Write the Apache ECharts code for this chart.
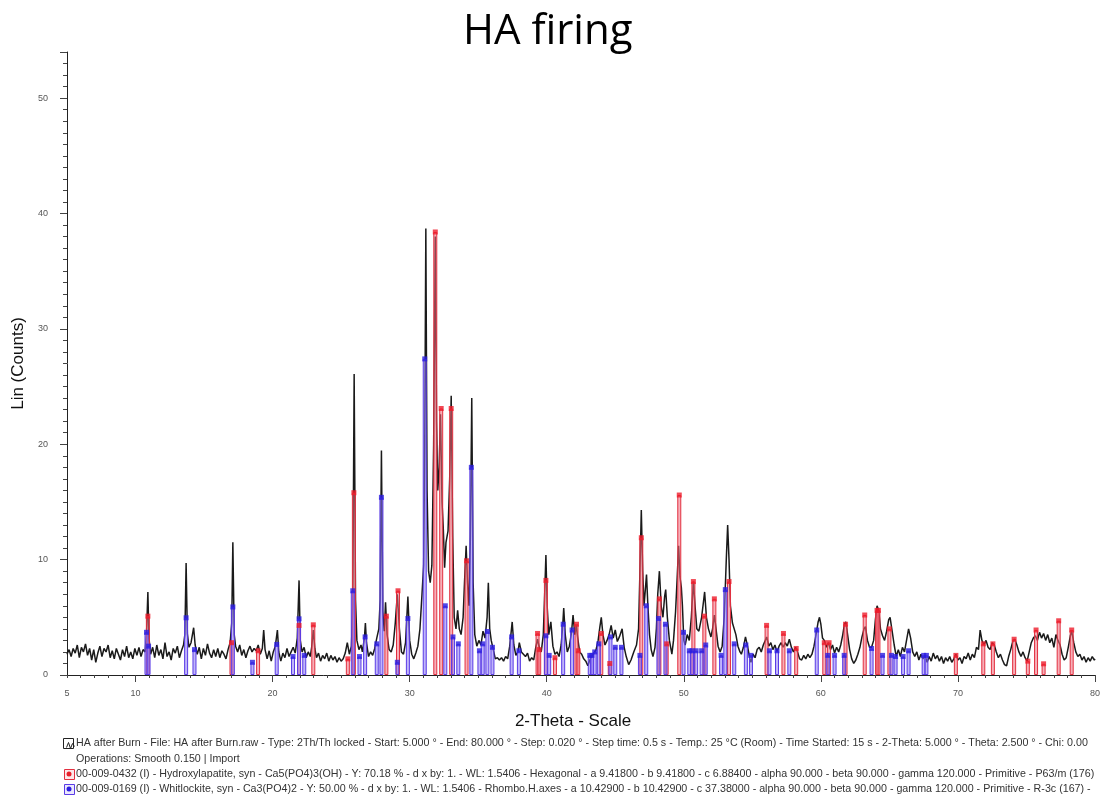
<!DOCTYPE html>
<html><head><meta charset="utf-8">
<script src="https://cdn.jsdelivr.net/npm/echarts@6/dist/echarts.min.js"></script>
<style>html,body{margin:0;padding:0;background:#fff}#c{width:1103px;height:806px}</style>
</head><body><div id="c"></div>
<script>
const chartTitle = 'HA firing';
const xName = '2-Theta - Scale';
const yName = 'Lin (Counts)';
const xTickLabels = [5,10,20,30,40,50,60,70,80];
const yTickLabels = [0,10,20,30,40,50];

// measured pattern: [2-theta, counts]
const pattern = [
[5.00,1.8],[5.15,2.2],[5.3,1.6],[5.45,2.3],[5.6,1.9],[5.75,2.6],[5.9,1.5],[6.05,2.4],[6.2,2.0],[6.35,2.7],[6.5,1.7],[6.65,2.3],[6.8,1.3],[6.95,2.2],[7.1,1.1],[7.25,1.9],[7.4,2.5],[7.55,1.6],[7.7,2.3],[7.85,2.0],[8.0,2.6],[8.15,1.5],[8.3,2.1],[8.45,1.4],[8.6,2.3],[8.75,1.8],[8.9,1.3],[9.05,2.2],[9.2,1.6],[9.35,2.5],[9.5,1.5],[9.65,2.0],[9.8,1.4],[9.95,2.3],[10.1,1.7],[10.25,2.4],[10.4,1.6],[10.55,2.2],[10.7,2.0],
[10.8,3.5],[10.9,7.2],[10.98,3.2],[11.1,1.8],[11.25,2.4],[11.4,1.5],[11.55,2.6],[11.7,1.7],[11.85,2.2],[12.0,1.4],[12.15,2.8],[12.3,1.6],[12.45,2.0],[12.6,1.3],[12.75,2.3],[12.9,1.9],[13.05,2.5],[13.2,1.5],[13.35,2.1],[13.5,2.6],
[13.6,3.5],[13.69,9.7],[13.78,3.6],[13.9,2.4],[14.05,2.8],[14.24,4.1],[14.35,2.6],[14.5,1.8],[14.65,2.4],[14.8,1.4],[14.95,2.3],[15.1,1.7],[15.25,2.7],[15.4,1.9],[15.55,1.5],[15.7,2.2],[15.85,1.6],[16.0,2.3],[16.15,1.5],[16.3,2.1],[16.45,1.8],[16.6,1.4],[16.75,2.2],[16.9,2.8],
[17.02,4.5],[17.1,11.5],[17.2,3.5],[17.3,2.5],[17.45,2.0],[17.6,2.6],[17.75,1.7],[17.9,2.2],[18.05,1.5],[18.2,2.1],[18.35,2.5],[18.5,2.0],[18.65,2.3],[18.8,2.1],[18.95,2.6],[19.1,1.8],[19.25,2.3],[19.35,3.9],[19.45,2.2],[19.6,1.4],[19.75,2.1],[19.9,1.2],[20.05,2.0],[20.2,2.5],[20.35,3.9],[20.45,2.0],[20.6,1.2],[20.75,1.9],[20.9,1.5],[21.05,2.3],[21.2,1.6],[21.35,2.0],[21.5,2.4],[21.65,1.9],[21.8,3.2],
[21.93,8.2],[22.02,3.0],[22.15,2.0],[22.3,2.4],[22.45,1.5],[22.6,2.0],[22.75,1.6],[22.85,2.4],[22.97,3.9],[23.08,2.3],[23.2,1.5],[23.35,1.9],[23.5,1.2],[23.65,1.7],[23.8,1.4],[23.95,1.9],[24.1,1.2],[24.25,1.7],[24.4,1.3],[24.55,1.6],[24.7,1.1],[24.85,1.5],[25.0,1.2],[25.15,1.4],[25.3,1.9],[25.45,2.8],[25.6,1.8],[25.75,2.5],
[25.85,6.0],[25.95,26.1],[26.05,6.5],[26.15,3.0],[26.3,2.2],[26.45,2.6],[26.55,2.0],[26.7,3.2],[26.77,4.5],[26.85,2.8],[27.0,1.6],[27.15,2.0],[27.3,1.7],[27.45,2.3],[27.6,3.2],[27.75,4.0],[27.85,6.5],[27.94,19.45],[28.04,5.5],[28.15,3.8],[28.24,6.3],[28.35,3.5],[28.5,2.2],[28.65,2.0],[28.8,2.6],[28.95,4.5],[29.1,7.0],[29.25,4.0],[29.4,2.0],[29.55,1.8],[29.7,2.8],[29.87,6.8],[30.0,3.0],[30.15,1.8],[30.3,1.4],[30.45,1.9],[30.6,2.5],[30.75,4.0],[30.9,7.0],[31.02,9.5],[31.1,20.0],[31.18,38.7],[31.27,16.0],[31.38,9.0],[31.5,8.0],[31.62,9.5],[31.75,20.0],[31.87,38.0],[31.96,22.0],[32.05,16.0],[32.15,18.0],[32.25,22.6],[32.36,15.0],[32.45,12.8],[32.55,9.3],[32.65,11.5],[32.8,12.5],[32.92,17.0],[33.03,24.2],[33.14,12.0],[33.25,5.0],[33.38,4.0],[33.5,5.6],[33.62,4.0],[33.75,3.5],[33.9,5.0],[34.0,8.0],[34.12,11.2],[34.22,8.0],[34.33,6.0],[34.43,12.0],[34.53,24.0],[34.63,8.0],[34.75,3.5],[34.9,2.5],[35.05,3.0],[35.2,2.6],[35.35,3.8],[35.5,3.2],[35.65,5.0],[35.74,8.0],[35.84,4.0],[35.95,3.0],[36.1,2.2],[36.25,1.4],[36.4,1.5],[36.55,1.3],[36.7,1.5],[36.85,1.2],[37.0,1.6],[37.15,1.4],[37.3,2.5],[37.48,4.6],[37.6,2.6],[37.75,1.7],[37.9,2.0],[38.0,2.8],[38.15,2.0],[38.3,1.8],[38.45,1.6],[38.6,1.9],[38.75,1.2],[38.9,1.5],[39.05,1.3],[39.2,2.4],[39.33,3.1],[39.45,2.4],[39.6,2.0],[39.75,3.5],[39.85,7.0],[39.94,10.4],[40.03,6.0],[40.15,3.5],[40.3,4.6],[40.45,2.5],[40.6,1.8],[40.75,2.0],[40.9,1.6],[41.05,2.6],[41.15,4.0],[41.24,5.8],[41.35,3.5],[41.5,2.0],[41.65,2.5],[41.8,3.6],[41.92,5.2],[42.05,3.5],[42.15,4.3],[42.25,3.3],[42.4,2.0],[42.55,1.8],[42.7,1.4],[42.85,1.2],[43.0,0.8],[43.15,1.3],[43.3,1.6],[43.45,1.9],[43.6,2.2],[43.75,3.0],[43.88,4.2],[43.98,5.0],[44.1,3.5],[44.25,2.6],[44.4,3.0],[44.55,3.5],[44.7,4.3],[44.85,3.2],[45.0,3.9],[45.15,2.9],[45.3,3.3],[45.5,4.0],[45.65,2.4],[45.8,1.6],[45.98,0.9],[46.15,1.3],[46.35,2.0],[46.55,2.6],[46.7,4.0],[46.8,9.0],[46.9,14.3],[47.0,9.0],[47.1,6.0],[47.2,7.5],[47.28,8.7],[47.38,6.0],[47.5,3.5],[47.62,2.2],[47.75,1.6],[47.9,2.4],[48.0,4.0],[48.1,7.0],[48.22,9.0],[48.35,6.0],[48.48,5.0],[48.6,6.8],[48.68,7.4],[48.8,5.0],[48.95,3.0],[49.13,1.8],[49.25,3.0],[49.4,5.5],[49.52,8.5],[49.62,11.2],[49.72,8.5],[49.82,7.6],[49.9,6.0],[50.0,3.0],[50.1,2.6],[50.25,3.5],[50.4,3.0],[50.55,5.0],[50.7,8.1],[50.82,6.0],[50.95,4.0],[51.1,3.8],[51.3,5.0],[51.45,6.5],[51.52,7.2],[51.65,5.0],[51.8,4.0],[51.98,3.3],[52.1,4.0],[52.23,5.2],[52.35,4.0],[52.5,2.5],[52.65,2.0],[52.8,2.5],[52.95,5.0],[53.1,10.0],[53.2,13.0],[53.3,10.0],[53.4,6.0],[53.55,4.5],[53.68,4.6],[53.8,3.5],[53.95,2.5],[54.1,2.0],[54.2,1.8],[54.35,2.4],[54.5,3.3],[54.65,2.5],[54.8,1.5],[54.9,1.1],[55.05,1.8],[55.2,1.5],[55.35,2.2],[55.5,2.4],[55.65,2.0],[55.8,2.6],[55.95,3.0],[56.05,3.3],[56.2,2.5],[56.35,2.8],[56.5,2.2],[56.65,2.6],[56.8,2.0],[56.95,2.5],[57.1,2.8],[57.25,2.4],[57.4,2.8],[57.55,2.5],[57.7,3.1],[57.85,2.4],[58.0,2.0],[58.15,2.4],[58.3,2.0],[58.45,1.4],[58.6,1.3],[58.75,1.7],[58.9,1.4],[59.05,1.8],[59.2,1.5],[59.35,1.8],[59.5,2.5],[59.65,3.5],[59.8,4.6],[59.9,5.0],[60.0,4.4],[60.12,3.2],[60.25,3.0],[60.4,2.4],[60.55,2.8],[60.7,2.2],[60.85,2.6],[61.0,1.9],[61.15,2.4],[61.3,2.0],[61.45,2.6],[61.6,3.5],[61.72,4.4],[61.82,4.6],[61.95,3.5],[62.1,2.2],[62.25,1.4],[62.4,1.0],[62.55,1.3],[62.7,1.8],[62.85,2.4],[63.0,3.3],[63.15,4.0],[63.25,4.2],[63.4,3.0],[63.55,2.4],[63.7,2.4],[63.85,3.0],[63.98,4.8],[64.1,6.0],[64.22,5.6],[64.35,4.0],[64.5,3.4],[64.65,3.0],[64.8,3.8],[64.95,4.8],[65.05,5.0],[65.2,3.8],[65.35,2.6],[65.5,1.6],[65.65,2.2],[65.8,1.6],[65.95,2.4],[66.1,2.0],[66.25,3.0],[66.4,4.0],[66.55,3.2],[66.7,2.0],[66.85,1.6],[67.0,2.0],[67.15,1.3],[67.3,1.8],[67.45,1.4],[67.6,1.7],[67.75,1.1],[67.9,1.6],[68.05,1.2],[68.2,1.9],[68.35,1.4],[68.5,1.7],[68.65,1.2],[68.8,1.6],[68.95,1.0],[69.1,1.5],[69.25,1.2],[69.4,1.6],[69.55,1.1],[69.7,1.4],[69.85,1.8],[70.0,1.3],[70.15,1.5],[70.3,1.0],[70.45,1.6],[70.6,1.4],[70.75,1.9],[70.9,1.3],[71.05,1.8],[71.2,1.5],[71.35,2.4],[71.5,2.2],[71.62,3.9],[71.75,3.0],[71.9,2.6],[72.05,3.0],[72.2,2.4],[72.35,2.2],[72.5,2.8],[72.65,2.6],[72.8,2.0],[72.95,1.5],[73.1,1.8],[73.25,1.3],[73.4,0.9],[73.55,0.8],[73.7,1.6],[73.85,2.2],[74.0,2.9],[74.15,3.1],[74.3,2.6],[74.45,2.0],[74.6,1.6],[74.75,2.0],[74.9,1.5],[75.05,1.2],[75.2,2.0],[75.35,2.8],[75.5,3.2],[75.65,3.4],[75.8,3.0],[75.95,3.7],[76.1,3.2],[76.25,3.6],[76.4,3.0],[76.55,3.5],[76.7,2.8],[76.85,3.2],[77.0,2.4],[77.15,3.5],[77.3,3.0],[77.45,2.6],[77.6,1.8],[77.75,1.3],[77.9,1.5],[78.05,2.4],[78.2,3.4],[78.3,3.8],[78.45,2.8],[78.6,2.0],[78.75,1.6],[78.9,1.8],[79.05,1.3],[79.2,1.6],[79.35,1.1],[79.5,1.5],[79.65,1.2],[79.8,1.6],[79.95,1.3],[80.0,1.4]
];

// 00-009-0432 Hydroxylapatite reference sticks: [2-theta, counts]
const haSticks = [
[10.9,5.1],[17.0,2.8],[18.94,2.1],[21.93,4.3],[22.97,4.35],[25.49,1.4],[25.93,15.8],[28.3,5.1],[29.15,7.3],[31.87,38.4],[32.3,23.1],[33.03,23.1],[34.15,9.9],[39.33,3.6],[39.45,2.2],[39.94,8.2],[40.6,1.5],[42.17,4.4],[42.3,2.1],[43.98,3.6],[44.6,1.0],[46.9,11.9],[48.22,6.6],[48.75,2.7],[49.67,15.6],[50.7,8.1],[51.5,5.1],[52.23,6.6],[53.3,8.1],[56.04,4.3],[57.27,3.6],[58.2,2.3],[60.25,2.8],[60.6,2.8],[61.8,4.4],[63.2,5.2],[64.1,5.6],[64.2,5.6],[65.0,4.0],[69.85,1.7],[71.85,2.7],[72.55,2.7],[74.1,3.1],[75.1,1.2],[75.7,3.9],[76.25,0.97],[77.35,4.7],[78.3,3.9]
];

// 00-009-0169 Whitlockite reference sticks: [2-theta, counts]
const whSticks = [
[10.8,3.7],[10.95,2.5],[13.69,4.96],[14.3,2.2],[17.1,5.9],[18.53,1.1],[20.3,2.65],[21.49,1.6],[21.93,4.87],[22.31,1.7],[25.85,7.3],[26.34,1.6],[26.75,3.3],[27.6,2.7],[27.94,15.4],[29.1,1.1],[29.87,4.9],[31.1,27.4],[32.6,6.0],[33.16,3.3],[33.55,2.7],[34.5,18.0],[35.09,2.1],[35.33,2.7],[35.67,3.77],[36.04,2.4],[37.44,3.3],[37.97,2.1],[39.94,3.4],[40.18,1.7],[41.2,4.4],[41.85,3.9],[43.14,1.7],[43.3,1.7],[43.5,2.0],[43.8,2.7],[44.65,3.3],[45.0,2.4],[45.45,2.4],[46.8,1.7],[47.26,6.0],[48.15,4.9],[48.66,4.4],[49.98,3.7],[50.4,2.1],[50.6,2.1],[50.9,2.1],[51.3,2.1],[51.6,2.6],[52.72,1.7],[53.03,7.4],[53.68,2.7],[54.53,2.6],[54.9,1.7],[56.25,2.1],[56.8,2.1],[57.7,2.1],[59.7,3.9],[60.5,1.7],[61.0,1.7],[61.7,1.7],[63.7,2.3],[64.5,1.7],[65.15,1.7],[65.45,1.6],[66.0,1.6],[66.4,2.1],[67.5,1.7],[67.7,1.7]
];

const legendLines = [
 'HA after Burn - File: HA after Burn.raw - Type: 2Th/Th locked - Start: 5.000 ° - End: 80.000 ° - Step: 0.020 ° - Step time: 0.5 s - Temp.: 25 °C (Room) - Time Started: 15 s - 2-Theta: 5.000 ° - Theta: 2.500 ° - Chi: 0.00',
 'Operations: Smooth 0.150 | Import',
 '00-009-0432 (I) - Hydroxylapatite, syn - Ca5(PO4)3(OH) - Y: 70.18 % - d x by: 1. - WL: 1.5406 - Hexagonal - a 9.41800 - b 9.41800 - c 6.88400 - alpha 90.000 - beta 90.000 - gamma 120.000 - Primitive - P63/m (176)',
 '00-009-0169 (I) - Whitlockite, syn - Ca3(PO4)2 - Y: 50.00 % - d x by: 1. - WL: 1.5406 - Rhombo.H.axes - a 10.42900 - b 10.42900 - c 37.38000 - alpha 90.000 - beta 90.000 - gamma 120.000 - Primitive - R-3c (167) -'
];

const xMinor = [];
for (let v = xTickLabels[0]; v <= xTickLabels[xTickLabels.length-1]; v++) xMinor.push(v);
const xMajor = xTickLabels.filter(v => v % 10 === 0);

const chart = echarts.init(document.getElementById('c'), null, {renderer:'canvas'});
const lblFont = 'Liberation Sans';
const txtColor = '#333';

const legendY = [744, 760, 775, 790];
const graphics = [];
legendLines.forEach((t, i) => {
  graphics.push({type:'text', left: 76, top: legendY[i]-6, style:{text:t, fontSize:10.7, fontFamily:lblFont, fill:txtColor}});
});
// icons
graphics.push({type:'rect', left:63, top:738, shape:{width:10,height:10}, style:{fill:'#fff', stroke:'#222', lineWidth:1}});
graphics.push({type:'polyline', left:64, top:740, shape:{points:[[0,6],[2,1],[4,7],[6,2],[8,5]]}, style:{stroke:'#222', lineWidth:1, fill:null}});
graphics.push({type:'rect', left:64, top:769, shape:{width:10,height:10}, style:{fill:'#fde8ea', stroke:'#e23040', lineWidth:1}});
graphics.push({type:'circle', left:66.5, top:771.5, shape:{r:2.5}, style:{fill:'#e8202a'}});
graphics.push({type:'rect', left:64, top:784, shape:{width:10,height:10}, style:{fill:'#ebe8fd', stroke:'#5a3ce6', lineWidth:1}});
graphics.push({type:'circle', left:66.5, top:786.5, shape:{r:2.5}, style:{fill:'#2b1de0'}});

const option = {
  animation: false,
  backgroundColor: '#fff',
  title: {text: chartTitle, left: 458, top: 6, textStyle:{fontSize:42, fontWeight:'normal', fontFamily:'Open Sans', color:'#000'}},
  grid: {left: 67, right: 4, top: 52, bottom: 131, containLabel:false},
  xAxis: [{
    type:'value', min: xTickLabels[0], max: xTickLabels[xTickLabels.length-1],
    name: xName, nameLocation:'middle', nameGap: 38,
    nameTextStyle:{fontSize:17, fontFamily:'Liberation Sans Narrow, Liberation Sans', color:'#111', padding:[0,16,0,0]},
    axisLine:{lineStyle:{color:'#222', width:1}},
    axisTick:{customValues: xMinor, length:3, lineStyle:{color:'#444'}},
    axisLabel:{customValues: xTickLabels, fontSize:9, color:'#555', fontFamily:lblFont, margin:14},
    splitLine:{show:false}
  },{
    type:'value', min: xTickLabels[0], max: xTickLabels[xTickLabels.length-1], position:'bottom',
    axisLine:{show:false},
    axisTick:{customValues: xMajor, length:7, lineStyle:{color:'#444'}},
    axisLabel:{show:false}, splitLine:{show:false}
  }],
  yAxis: {
    type:'value', min: yTickLabels[0], max: 54, interval: 10,
    name: yName, nameLocation:'middle', nameGap: 35, nameRotate: 90,
    nameTextStyle:{fontSize:17, fontFamily:'Liberation Sans Narrow, Liberation Sans', color:'#111'},
    axisLine:{show:true, lineStyle:{color:'#222', width:1}},
    axisTick:{show:true, length:7, lineStyle:{color:'#444'}},
    minorTick:{show:true, splitNumber:10, length:4, lineStyle:{color:'#444'}},
    axisLabel:{fontSize:9, color:'#555', fontFamily:lblFont, margin:19, showMaxLabel:false},
    splitLine:{show:false}, minorSplitLine:{show:false}
  },
  graphic: graphics,
  series: [
    {name:'HA after Burn', type:'line', data: pattern, showSymbol:false, symbol:'none',
     lineStyle:{color:'#1a1a1a', width:1.5}, z:2},
    {name:'Hydroxylapatite', type:'bar', data: haSticks, barWidth:4, barGap:'-100%',
     itemStyle:{color:'rgba(240,110,125,0.55)', borderColor:'#e23040', borderWidth:1}, z:3},
    {name:'Whitlockite', type:'bar', data: whSticks, barWidth:4, barGap:'-100%',
     itemStyle:{color:'rgba(140,120,245,0.55)', borderColor:'#5a3ce6', borderWidth:1}, z:4},
    {name:'HA marks', type:'scatter', data: haSticks, symbol:'rect', symbolSize:5,
     itemStyle:{color:'#ee1c2a'}, z:5},
    {name:'Wh marks', type:'scatter', data: whSticks, symbol:'rect', symbolSize:5,
     itemStyle:{color:'#2b1de0'}, z:6}
  ]
};
chart.setOption(option);
</script></body></html>
